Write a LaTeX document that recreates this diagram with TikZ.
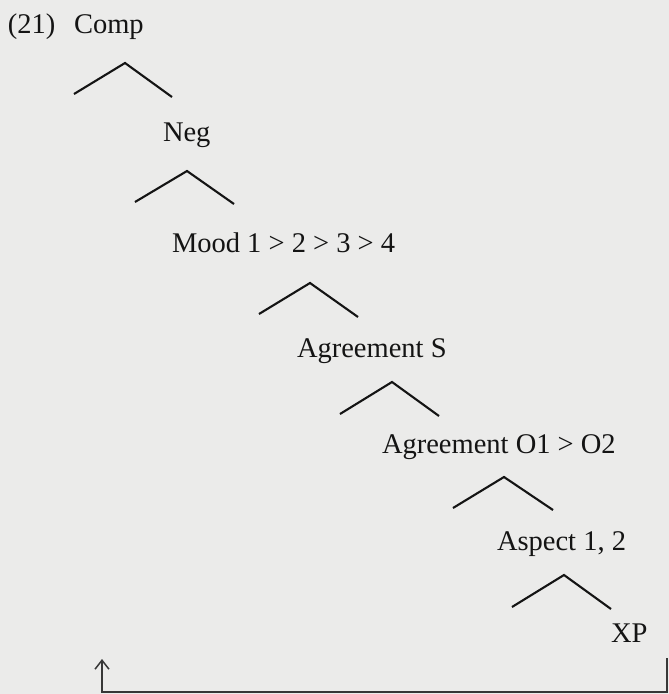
\documentclass[tikz,border=0pt]{standalone}
\usepackage{fontspec}
\setmainfont{Liberation Serif}
\usetikzlibrary{arrows.meta}
\definecolor{paper}{HTML}{EBEBEA}
\definecolor{ink}{HTML}{141414}
\begin{document}
\begin{tikzpicture}[x=1pt,y=-1pt,
  lab/.style={anchor=base west,inner sep=0pt,outer sep=0pt,text=ink,font=\fontsize{28.5}{30}\selectfont},
  branch/.style={draw=ink,line width=2.1pt,line join=miter},
  movearrow/.style={draw=ink!85,line width=1.3pt,-{Straight Barb[length=9pt,width=14pt,line width=1.5pt]}}]
\fill[paper] (0,0) rectangle (669,694);
\useasboundingbox (0,0) rectangle (669,694);
% labels
\node[lab] (num) at (8,33) {(21)};
\node[lab] (comp) at (74,33) {Comp};
\node[lab] (neg) at (163,141) {Neg};
\node[lab] (mood) at (172,252) {Mood 1 > 2 > 3 > 4};
\node[lab] (agrs) at (297,357) {Agreement S};
\node[lab] (agro) at (382,453) {Agreement O1 > O2};
\node[lab] (asp) at (497,550) {Aspect 1, 2};
\node[lab] (xp) at (611,642) {XP};
% branch points
\coordinate (l1) at (74,94);   \coordinate (a1) at (125,63);  \coordinate (r1) at (172,97);
\coordinate (l2) at (135,202); \coordinate (a2) at (187,171); \coordinate (r2) at (234,204);
\coordinate (l3) at (259,314); \coordinate (a3) at (310,283); \coordinate (r3) at (358,317);
\coordinate (l4) at (340,414); \coordinate (a4) at (392,382); \coordinate (r4) at (439,416);
\coordinate (l5) at (453,508); \coordinate (a5) at (504,477); \coordinate (r5) at (553,510);
\coordinate (l6) at (512,607); \coordinate (a6) at (564,575); \coordinate (r6) at (611,609);
\foreach \i in {1,...,6}{\draw[branch] (l\i) -- (a\i) -- (r\i);}
% movement arrow
\coordinate (ms) at (667,658);
\coordinate (mc1) at (667,692);
\coordinate (mc2) at (102,692);
\coordinate (mt) at (102,659);
\draw[movearrow] (ms) -- (mc1) -- (mc2) -- (mt);
\end{tikzpicture}
\end{document}
